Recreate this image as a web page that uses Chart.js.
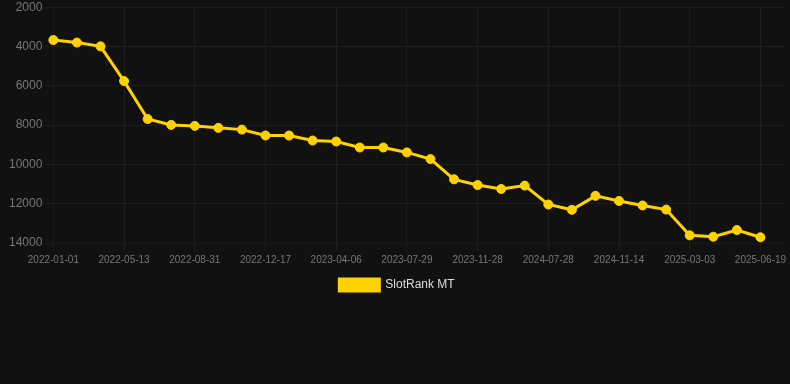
<!DOCTYPE html>
<html>
<head>
<meta charset="utf-8">
<script src="https://cdn.jsdelivr.net/npm/chart.js@4/dist/chart.umd.min.js"></script>
<style>
  html, body { margin: 0; padding: 0; background: #111111; }
  #wrap { width: 790px; height: 301px; position: relative; }
</style>
</head>
<body>
<div id="wrap"><canvas id="c"></canvas></div>
<script>
const dates = [
  "2022-01-01", "2022-02-14", "2022-03-30", "2022-05-13", "2022-06-19", "2022-07-25",
  "2022-08-31", "2022-10-06", "2022-11-11", "2022-12-17", "2023-01-22", "2023-02-27",
  "2023-04-06", "2023-05-14", "2023-06-21", "2023-07-29", "2023-09-08", "2023-10-18",
  "2023-11-28", "2024-02-18", "2024-05-09", "2024-07-28", "2024-09-03", "2024-10-09",
  "2024-11-14", "2024-12-20", "2025-01-25", "2025-03-03", "2025-04-08", "2025-05-14",
  "2025-06-19", "2025-07-25"
];
const seriesName = "SlotRank MT";
const rankValues = [
  3670, 3800, 3990, 5760, 7690, 7990, 8040, 8140, 8230, 8530, 8530, 8785,
  8835, 9140, 9140, 9390, 9730, 10760, 11050, 11250, 11080, 12040, 12310, 11600,
  11860, 12090, 12300, 13610, 13680, 13340, 13710
];
const yTicks = [2000, 4000, 6000, 8000, 10000, 12000, 14000];

new Chart(document.getElementById('c'), {
  type: 'line',
  data: {
    labels: dates,
    datasets: [{
      label: seriesName,
      data: rankValues,
      borderColor: '#FFD200',
      backgroundColor: '#FFD200',
      borderWidth: 3,
      pointRadius: 4.5,
      pointBorderWidth: 1,
      pointHoverRadius: 5,
      pointBackgroundColor: '#FFD200',
      pointBorderColor: '#FFD200',
      tension: 0
    }]
  },
  options: {
    responsive: true,
    maintainAspectRatio: false,
    animation: false,
    layout: { padding: { top: 0, right: 2, left: 6 } },
    plugins: {
      legend: {
        position: 'bottom',
        labels: {
          color: '#dddddd',
          font: { size: 12 },
          boxWidth: 40,
          boxHeight: 12
        }
      },
      tooltip: { enabled: false }
    },
    scales: {
      x: {
        grid: {
          color: function(ctx) { return (ctx.index % 3 === 0) ? 'rgba(255,255,255,0.05)' : 'rgba(0,0,0,0)'; }
        },
        ticks: {
          color: '#777777',
          font: { size: 10 },
          maxRotation: 0,
          autoSkip: false,
          callback: function(v, i) { return i % 3 === 0 ? dates[i] : ''; }
        }
      },
      y: {
        reverse: true,
        min: yTicks[0],
        max: yTicks[yTicks.length - 1],
        grid: { color: 'rgba(255,255,255,0.05)' },
        afterBuildTicks: function(axis) { axis.ticks = yTicks.map(function(v) { return { value: v }; }); },
        ticks: {
          color: '#777777',
          font: { size: 12, lineHeight: 0.7 },
          callback: function(v) { return String(v); }
        }
      }
    }
  }
});
</script>
</body>
</html>
